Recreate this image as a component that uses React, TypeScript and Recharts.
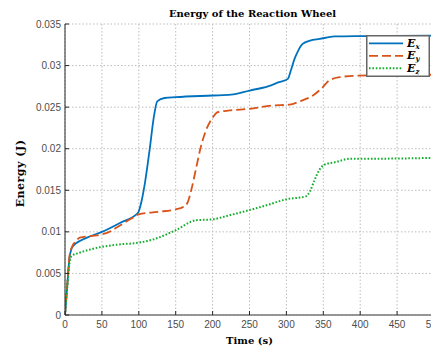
import { LineChart, Line, XAxis, YAxis, CartesianGrid, Legend } from "recharts"

// time stamps (s) and energy (J) per wheel axis
const timeX = [0, 3, 6, 9, 12, 20, 35, 50, 75, 99, 104, 108, 115, 120, 125, 135, 150, 200, 225, 250, 275, 290, 302, 306, 311, 316, 322, 332, 345, 365, 400, 500]
const energyX = [0, 0.0035, 0.0068, 0.008, 0.0084, 0.0089, 0.0095, 0.01, 0.0111, 0.0123, 0.0138, 0.0157, 0.0201, 0.0236, 0.0257, 0.0261, 0.0262, 0.0264, 0.0265, 0.027, 0.0275, 0.028, 0.0284, 0.0294, 0.0308, 0.0318, 0.0326, 0.033, 0.0332, 0.0335, 0.03355, 0.0336]

const timeY = [0, 3, 6, 10, 14, 20, 35, 50, 60, 75, 90, 100, 125, 150, 160, 166, 171, 178, 184, 191, 199, 207, 223, 250, 282, 304, 318, 336, 347, 358, 372, 400, 500]
const energyY = [0, 0.0035, 0.007, 0.0083, 0.0088, 0.0093, 0.0095, 0.0097, 0.01, 0.0108, 0.0116, 0.0121, 0.0124, 0.0127, 0.013, 0.0135, 0.015, 0.0178, 0.0202, 0.0222, 0.0236, 0.0244, 0.0246, 0.0248, 0.0252, 0.0253, 0.0257, 0.0264, 0.0272, 0.0282, 0.0286, 0.0288, 0.0289]

const timeZ = [0, 3, 6, 9, 20, 35, 50, 75, 100, 120, 150, 178, 199, 223, 249, 273, 299, 327, 332, 338, 345, 352, 367, 386, 420, 500]
const energyZ = [0, 0.0033, 0.0062, 0.0071, 0.0075, 0.0079, 0.0082, 0.0085, 0.0087, 0.0091, 0.0102, 0.0114, 0.0115, 0.012, 0.0126, 0.0132, 0.0139, 0.0143, 0.0149, 0.0162, 0.0175, 0.0181, 0.0184, 0.0188, 0.0188, 0.0189]

const xTicks = [0, 50, 100, 150, 200, 250, 300, 350, 400, 450, 500]
const yTicks = [0, 0.005, 0.01, 0.015, 0.02, 0.025, 0.03, 0.035]
const yTickLabels = ["0", "0.005", "0.01", "0.015", "0.02", "0.025", "0.03", "0.035"]

const seriesNames = ["x", "y", "z"]

const toPoints = (ts: number[], es: number[]) => ts.map((t, i) => ({ t, e: es[i] }))

const BLUE = "#0072BD"
const ORANGE = "#D95319"
const GREEN = "#12AD2B"

const TICK_FONT = "'Liberation Sans', Arial, sans-serif"
const LABEL_FONT = "'DejaVu Serif', serif"

// the axes run past the right edge of the view, so the chart is wider than its box
const BOX_W = 431
const BOX_H = 349
const W = 450
const H = 349
const M = { top: 24, right: 16, left: 0, bottom: 0 }
const Y_AXIS_W = 65
const X_AXIS_H = 34

function XTick(props: any) {
  const { x, y, payload } = props
  return (
    <g>
      <line x1={x} x2={x} y1={y - 6} y2={y - 10} stroke="#262626" strokeWidth={1} />
      <text x={x} y={y} dy="0.71em" textAnchor="middle" fontSize={10} fontFamily={TICK_FONT} fill="#4d4d4d">
        {payload.value}
      </text>
    </g>
  )
}

function YTick(props: any) {
  const { x, y, payload, index } = props
  return (
    <g>
      <line x1={x + 4} x2={x + 8} y1={y} y2={y} stroke="#262626" strokeWidth={1} />
      <text x={x} y={y} dy="0.355em" textAnchor="end" fontSize={10} fontFamily={TICK_FONT} fill="#4d4d4d">
        {yTickLabels[index] ?? payload.value}
      </text>
    </g>
  )
}

function LegendBox() {
  const styles = [
    { color: BLUE, dash: undefined, width: 1.8 },
    { color: ORANGE, dash: "9 4", width: 1.8 },
    { color: GREEN, dash: "1.6 1.8", width: 2 },
  ]
  return (
    <svg width={64} height={42} style={{ display: "block" }}>
      <rect x={0.75} y={0.75} width={62.5} height={40.5} fill="#fff" stroke="#666" strokeWidth={1.5} />
      {seriesNames.map((n, i) => {
        const cy = 8.3 + i * 12.5
        return (
          <g key={n}>
            <line x1={3} x2={37} y1={cy} y2={cy} stroke={styles[i].color} strokeWidth={styles[i].width} strokeDasharray={styles[i].dash} />
            <text x={41} y={cy + 3.5} fontSize={11} fontFamily={LABEL_FONT} fontWeight="bold" fontStyle="italic" fill="#000">
              E
              <tspan fontSize={7} dy={2}>{n}</tspan>
            </text>
          </g>
        )
      })}
    </svg>
  )
}

export default function App() {
  const plotLeft = M.left + Y_AXIS_W
  const plotRight = W - M.right
  const cx = (plotLeft + plotRight) / 2
  const plotTop = M.top
  const plotBottom = H - M.bottom - X_AXIS_H

  return (
    <>
      <style>{"body { margin: 0; }"}</style>
      <div style={{ width: BOX_W, height: BOX_H, overflow: "hidden", position: "relative", background: "#fff" }}>
        <LineChart width={W} height={H} margin={M}>
          <CartesianGrid stroke="#bdbdbd" strokeDasharray="1.5 2" />
          <XAxis
            dataKey="t"
            type="number"
            domain={[0, 500]}
            ticks={xTicks}
            allowDataOverflow
            height={X_AXIS_H}
            tickSize={0}
            tickMargin={6}
            tick={<XTick />}
            stroke="#777"
            strokeWidth={1.5}
          />
          <YAxis
            type="number"
            domain={[0, 0.035]}
            ticks={yTicks}
            allowDataOverflow
            width={Y_AXIS_W}
            tickSize={0}
            tickMargin={4}
            tick={<YTick />}
            stroke="#262626"
          />
          <Line data={toPoints(timeX, energyX)} dataKey="e" name="E_x" type="monotone" stroke={BLUE} strokeWidth={1.8} dot={false} isAnimationActive={false} />
          <Line data={toPoints(timeY, energyY)} dataKey="e" name="E_y" type="monotone" stroke={ORANGE} strokeWidth={1.8} strokeDasharray="9 4" dot={false} isAnimationActive={false} />
          <Line data={toPoints(timeZ, energyZ)} dataKey="e" name="E_z" type="monotone" stroke={GREEN} strokeWidth={2} strokeDasharray="1.6 1.8" dot={false} isAnimationActive={false} />
          <Legend
            layout="vertical"
            align="center"
            verticalAlign="middle"
            content={() => <LegendBox />}
            wrapperStyle={{ left: 366, top: 35, width: 64, height: 42 }}
          />
        </LineChart>
        <svg width={W} height={H} style={{ position: "absolute", left: 0, top: 0, pointerEvents: "none" }}>
          <text x={cx + 3} y={plotTop - 7} textAnchor="middle" fontSize={10} fontWeight="bold" fontFamily={LABEL_FONT} fill="#000">
            Energy of the Reaction Wheel
          </text>
          <text x={cx} y={H - 5} textAnchor="middle" fontSize={10} fontWeight="bold" fontFamily={LABEL_FONT} fill="#000">
            Time (s)
          </text>
          <text
            x={0}
            y={0}
            transform={`translate(23.5, ${(plotTop + plotBottom) / 2 + 4}) rotate(-90)`}
            textAnchor="middle"
            fontSize={11}
            letterSpacing={0.5}
            fontWeight="bold"
            fontFamily={LABEL_FONT}
            fill="#000"
          >
            Energy (J)
          </text>
        </svg>
      </div>
    </>
  )
}
